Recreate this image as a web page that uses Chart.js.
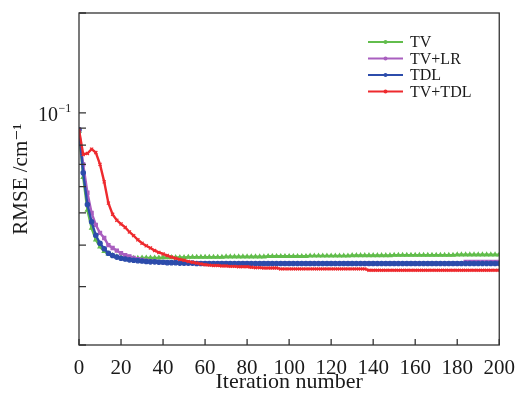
<!DOCTYPE html>
<html>
<head>
<meta charset="utf-8">
<script src="https://cdn.jsdelivr.net/npm/chart.js@4/dist/chart.umd.min.js"></script>
<style>
  html, body { margin: 0; padding: 0; background: #fff; }
  canvas { display: block; }
</style>
</head>
<body>
<canvas id="c" width="518" height="393"></canvas>
<script>
// iteration index (every 2nd iteration)
const iterations = [
  0, 2, 4, 6, 8, 10, 12, 14, 16, 18,
  20, 22, 24, 26, 28, 30, 32, 34, 36, 38,
  40, 42, 44, 46, 48, 50, 52, 54, 56, 58,
  60, 62, 64, 66, 68, 70, 72, 74, 76, 78,
  80, 82, 84, 86, 88, 90, 92, 94, 96, 98,
  100, 102, 104, 106, 108, 110, 112, 114, 116, 118,
  120, 122, 124, 126, 128, 130, 132, 134, 136, 138,
  140, 142, 144, 146, 148, 150, 152, 154, 156, 158,
  160, 162, 164, 166, 168, 170, 172, 174, 176, 178,
  180, 182, 184, 186, 188, 190, 192, 194, 196, 198,
  200
];

const rmseTV = [
  0.088, 0.064, 0.051, 0.045, 0.0415, 0.0395, 0.0383, 0.0376, 0.0372, 0.0369,
  0.0367, 0.0366, 0.0365, 0.0365, 0.0365, 0.0366, 0.0366, 0.0366, 0.0366, 0.0366,
  0.0367, 0.0367, 0.0367, 0.0367, 0.0367, 0.0367, 0.0368, 0.0368, 0.0368, 0.0368,
  0.0368, 0.0368, 0.0368, 0.0368, 0.0368, 0.0369, 0.0369, 0.0369, 0.0369, 0.0369,
  0.0369, 0.0369, 0.0369, 0.0369, 0.0369, 0.037, 0.037, 0.037, 0.037, 0.037,
  0.037, 0.037, 0.037, 0.037, 0.037, 0.0371, 0.0371, 0.0371, 0.0371, 0.0371,
  0.0371, 0.0371, 0.0371, 0.0371, 0.0371, 0.0372, 0.0372, 0.0372, 0.0372, 0.0372,
  0.0372, 0.0372, 0.0372, 0.0372, 0.0372, 0.0373, 0.0373, 0.0373, 0.0373, 0.0373,
  0.0373, 0.0373, 0.0373, 0.0373, 0.0373, 0.0373, 0.0373, 0.0373, 0.0373, 0.0373,
  0.0374, 0.0374, 0.0374, 0.0374, 0.0374, 0.0374, 0.0374, 0.0374, 0.0374, 0.0374,
  0.0374
];

const rmseTVLR = [
  0.089, 0.070, 0.0575, 0.050, 0.046, 0.0435, 0.042, 0.040, 0.0392, 0.0385,
  0.0378, 0.0373, 0.037, 0.0366, 0.0363, 0.0361, 0.0359, 0.0358, 0.0357, 0.0356,
  0.0355, 0.0355, 0.0354, 0.0354, 0.0354, 0.0353, 0.0353, 0.0353, 0.0353, 0.0352,
  0.0352, 0.0352, 0.0352, 0.0352, 0.0352, 0.0352, 0.0352, 0.0352, 0.0352, 0.0352,
  0.0352, 0.0352, 0.0352, 0.0352, 0.0352, 0.0352, 0.0352, 0.0352, 0.0352, 0.0352,
  0.0352, 0.0352, 0.0352, 0.0352, 0.0352, 0.0352, 0.0352, 0.0352, 0.0352, 0.0352,
  0.0352, 0.0352, 0.0352, 0.0352, 0.0352, 0.0352, 0.0352, 0.0352, 0.0352, 0.0352,
  0.0352, 0.0352, 0.0352, 0.0352, 0.0352, 0.0352, 0.0352, 0.0352, 0.0352, 0.0352,
  0.0352, 0.0352, 0.0352, 0.0352, 0.0352, 0.0352, 0.0352, 0.0352, 0.0352, 0.0352,
  0.0352, 0.0352, 0.0356, 0.0356, 0.0356, 0.0356, 0.0356, 0.0356, 0.0356, 0.0356,
  0.0356
];

const rmseTDL = [
  0.089, 0.066, 0.053, 0.047, 0.0428, 0.0405, 0.039, 0.0378, 0.0372, 0.0368,
  0.0365, 0.0363, 0.0361, 0.036, 0.0359, 0.0358, 0.0357, 0.0356, 0.0356, 0.0355,
  0.0355, 0.0354, 0.0354, 0.0354, 0.0353, 0.0353, 0.0353, 0.0353, 0.0352, 0.0352,
  0.0352, 0.0352, 0.0352, 0.0352, 0.0352, 0.0352, 0.0352, 0.0352, 0.0352, 0.0352,
  0.0352, 0.0352, 0.0352, 0.0352, 0.0352, 0.0352, 0.0352, 0.0352, 0.0352, 0.0352,
  0.0352, 0.0352, 0.0352, 0.0352, 0.0352, 0.0352, 0.0352, 0.0352, 0.0352, 0.0352,
  0.0352, 0.0352, 0.0352, 0.0352, 0.0352, 0.0352, 0.0352, 0.0352, 0.0352, 0.0352,
  0.0352, 0.0352, 0.0352, 0.0352, 0.0352, 0.0352, 0.0352, 0.0352, 0.0352, 0.0352,
  0.0352, 0.0352, 0.0352, 0.0352, 0.0352, 0.0352, 0.0352, 0.0352, 0.0352, 0.0352,
  0.0352, 0.0352, 0.0352, 0.0352, 0.0352, 0.0352, 0.0352, 0.0352, 0.0352, 0.0352,
  0.0352
];

const rmseTVTDL = [
  0.089, 0.075, 0.0755, 0.0778, 0.076, 0.070, 0.062, 0.0535, 0.0495, 0.0475,
  0.0463, 0.0452, 0.0438, 0.0427, 0.0415, 0.0405, 0.0398, 0.0392, 0.0385, 0.038,
  0.0376, 0.0372, 0.0368, 0.0365, 0.0362, 0.036, 0.0357, 0.0355, 0.0353, 0.0351,
  0.0349, 0.0348, 0.0347, 0.0347, 0.0346, 0.0346, 0.0345, 0.0345, 0.0344, 0.0344,
  0.0344, 0.0343, 0.0342, 0.0342, 0.0341, 0.0341, 0.0341, 0.0341, 0.0339, 0.0339,
  0.0339, 0.0339, 0.0339, 0.0339, 0.0339, 0.0339, 0.0339, 0.0339, 0.0339, 0.0339,
  0.0339, 0.0339, 0.0339, 0.0339, 0.0339, 0.0339, 0.0339, 0.0339, 0.0339, 0.0336,
  0.0336, 0.0336, 0.0336, 0.0336, 0.0336, 0.0336, 0.0336, 0.0336, 0.0336, 0.0336,
  0.0336, 0.0336, 0.0336, 0.0336, 0.0336, 0.0336, 0.0336, 0.0336, 0.0336, 0.0336,
  0.0336, 0.0336, 0.0336, 0.0336, 0.0336, 0.0336, 0.0336, 0.0336, 0.0336, 0.0336,
  0.0336
];

const seriesNames  = ['TV', 'TV+LR', 'TDL', 'TV+TDL'];
const seriesColors = ['#62bd4c', '#a95fbf', '#2c4cab', '#ee2a2e'];
const seriesPoints = ['triangle', 'rect', 'circle', 'crossRot'];
const yMinorTicks  = [0.02, 0.03, 0.04, 0.05, 0.06, 0.07, 0.08, 0.09, 0.1, 0.2];

const SERIF = "'Liberation Serif', 'DejaVu Serif', serif";
const INK   = '#1a1a1a';

function pts(vals) {
  return iterations.map((x, i) => ({ x, y: vals[i] }));
}

// Rahmen, nach innen zeigende Ticks, 10^-1 Beschriftung und Legende
const frameAndLegend = {
  id: 'frameAndLegend',
  afterDraw(chart) {
    const { ctx, chartArea: a, scales: { x, y } } = chart;
    ctx.save();
    ctx.strokeStyle = '#333';
    ctx.lineWidth = 1.3;
    ctx.strokeRect(a.left, a.top, a.right - a.left, a.bottom - a.top);

    ctx.beginPath();
    x.ticks.forEach(t => {
      const px = x.getPixelForValue(t.value);
      ctx.moveTo(px, a.bottom);
      ctx.lineTo(px, a.bottom - 6);
    });
    yMinorTicks.forEach(v => {
      const py = y.getPixelForValue(v);
      ctx.moveTo(a.left, py);
      ctx.lineTo(a.left + 7, py);
    });
    ctx.stroke();

    // 10^-1
    const p1 = y.getPixelForValue(0.1);
    ctx.fillStyle = INK;
    ctx.font = '20px ' + SERIF;
    ctx.textAlign = 'right';
    ctx.textBaseline = 'alphabetic';
    ctx.fillText('10', 58, p1 + 8);
    ctx.font = '12px ' + SERIF;
    ctx.textAlign = 'left';
    ctx.fillText('\u22121', 58.5, p1 - 1);

    // legend
    const rowY = [42, 58.5, 75, 91.5];
    chart.data.datasets.forEach((ds, i) => {
      const yy = rowY[i];
      ctx.strokeStyle = ds.borderColor;
      ctx.lineWidth = 1.8;
      ctx.beginPath();
      ctx.moveTo(368, yy);
      ctx.lineTo(403, yy);
      ctx.stroke();
      ctx.fillStyle = ds.borderColor;
      ctx.beginPath();
      ctx.arc(385.5, yy, 2, 0, Math.PI * 2);
      ctx.fill();
      ctx.fillStyle = INK;
      ctx.font = '16px ' + SERIF;
      ctx.textAlign = 'left';
      ctx.textBaseline = 'middle';
      ctx.fillText(ds.label, 410, yy + 1);
    });
    ctx.restore();
  }
};

const allValues = [rmseTV, rmseTVLR, rmseTDL, rmseTVTDL];
const drawOrder = [3, 2, 1, 0];

new Chart(document.getElementById('c'), {
  type: 'line',
  plugins: [frameAndLegend],
  data: {
    datasets: allValues.map((vals, i) => ({
      label: seriesNames[i],
      data: pts(vals),
      borderColor: seriesColors[i],
      backgroundColor: seriesColors[i],
      pointBackgroundColor: seriesColors[i],
      pointBorderColor: seriesColors[i],
      pointStyle: seriesPoints[i],
      pointRadius: 2.2,
      pointBorderWidth: 1.2,
      borderWidth: 2.4,
      tension: 0,
      fill: false,
      order: drawOrder[i],
    }))
  },
  options: {
    responsive: false,
    animation: false,
    layout: { padding: { left: 0, top: 13, right: 18, bottom: 0 } },
    plugins: {
      legend: { display: false },
      tooltip: { enabled: false }
    },
    scales: {
      x: {
        type: 'linear',
        min: 0,
        max: 200,
        grid: { display: false },
        border: { display: false },
        ticks: { stepSize: 20, color: INK, padding: 3, maxRotation: 0, font: { family: SERIF, size: 21 } },
        title: { display: true, text: 'Iteration number', color: INK, padding: { top: 0, bottom: 0 }, font: { family: SERIF, size: 22, lineHeight: 1.0 } },
        afterFit(s) { s.height = 48; }
      },
      y: {
        type: 'logarithmic',
        min: 0.02,
        max: 0.2,
        grid: { display: false },
        border: { display: false },
        ticks: { display: false },
        afterBuildTicks(s) { s.ticks = yMinorTicks.map(v => ({ value: v })); },
        title: { display: true, text: 'RMSE /cm\u207B\u00B9', color: INK, padding: { top: 9, bottom: 0 }, font: { family: SERIF, size: 21, lineHeight: 1.2 } },
        afterFit(s) { s.width = 79; }
      }
    }
  }
});
</script>
</body>
</html>
